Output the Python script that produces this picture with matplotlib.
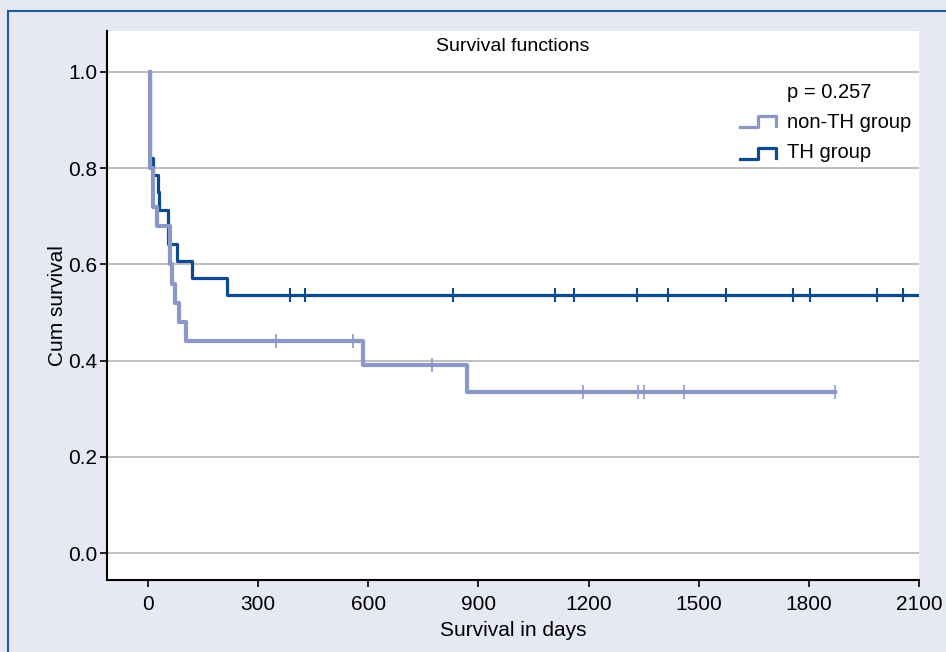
import numpy as np
import matplotlib.pyplot as plt
from matplotlib.lines import Line2D
from matplotlib.patches import Rectangle

# step data (days, cumulative survival)
th_t = [4, 4, 13, 26, 31, 54, 80, 120, 214, 2150]
th_s = [1.0, 0.821, 0.786, 0.750, 0.714, 0.643, 0.607, 0.571, 0.536, 0.536]
th_cens = [386, 427, 831, 1108, 1160, 1332, 1416, 1574, 1756, 1804, 1985, 2056]

non_t = [4, 4, 14, 25, 60, 64, 73, 83, 102, 585, 868, 1871]
non_s = [1.0, 0.80, 0.72, 0.68, 0.60, 0.56, 0.52, 0.48, 0.44, 0.391, 0.335, 0.335]
non_cens = [349, 559, 774, 1184, 1334, 1352, 1460, 1871]

xticks = [0, 300, 600, 900, 1200, 1500, 1800, 2100]
yticks = [0.0, 0.2, 0.4, 0.6, 0.8, 1.0]

light = '#8a98c9'
dark = '#0e4a92'
bg = '#e6e8f4'

plt.rcParams['font.family'] = ['Liberation Sans', 'DejaVu Sans']

fig = plt.figure(figsize=(9.46, 6.52), dpi=100, facecolor=bg)
fig.patches.append(Rectangle((8/946, -0.1), 1.2, 1 - 11/652 + 0.1, transform=fig.transFigure,
                             fill=False, edgecolor='#1f5ca6', linewidth=1.5))
ax = fig.add_axes([107/946, 1 - 580/652, (919-107)/946, (580-31)/652])
ax.set_facecolor('white')

for y in yticks:
    ax.axhline(y, color='#b4b4b4', linewidth=1.2, zorder=0)

def censor_y(times, t, s):
    idx = np.searchsorted(t, times, side='right') - 1
    return [s[i] for i in idx]

ax.plot(th_t, th_s, drawstyle='steps-post', color=dark, linewidth=2.3, zorder=2)
ax.plot(th_cens, censor_y(th_cens, th_t, th_s), linestyle='none', marker='|',
        markersize=10, markeredgewidth=1.5, color=dark, zorder=2)
ax.plot(non_t, non_s, drawstyle='steps-post', color=light, linewidth=3, zorder=3)
ax.plot(non_cens, censor_y(non_cens, non_t, non_s), linestyle='none', marker='|',
        markersize=10, markeredgewidth=1.2, color=light, zorder=3)

ax.set_xlim(-112, 2100)
ax.set_ylim(-0.056, 1.085)
ax.set_xticks(xticks)
ax.set_xticklabels([str(v) for v in xticks])
ax.set_yticks(yticks)
ax.set_yticklabels(['%.1f' % v for v in yticks])
ax.tick_params(axis='both', labelsize=15, length=5, width=1.2, color='black')
ax.tick_params(axis='y', pad=2)
ax.tick_params(axis='x', pad=6)
ax.spines['top'].set_visible(False)
ax.spines['right'].set_visible(False)
ax.spines['left'].set_linewidth(1.5)
ax.spines['bottom'].set_linewidth(1.5)

ax.text(0.5, 0.971, 'Survival functions', transform=ax.transAxes, ha='center', va='center', fontsize=14)
ax.set_xlabel('Survival in days', fontsize=15, labelpad=5)
ax.set_ylabel('Cum survival', fontsize=15, labelpad=1)

# legend drawn by hand with step-shaped handles
def px(x, y):
    return ((x - 107) / 812, (580 - y) / 549)

def handle(ytop, ybot, col):
    pts = [px(740, ybot), px(758, ybot), px(758, ytop), px(776, ytop), px(776, ybot - 1)]
    xs, ys = zip(*pts)
    ax.add_line(Line2D(xs, ys, transform=ax.transAxes, color=col, linewidth=2.3, clip_on=False))

handle(116, 127, light)
handle(148, 159, dark)
ax.text(*px(787, 92), 'p = 0.257', transform=ax.transAxes, ha='left', va='center', fontsize=14.5)
ax.text(*px(787, 122), 'non-TH group', transform=ax.transAxes, ha='left', va='center', fontsize=14.5)
ax.text(*px(787, 152), 'TH group', transform=ax.transAxes, ha='left', va='center', fontsize=14.5)

fig.savefig('out.png', dpi=100, facecolor=bg)
